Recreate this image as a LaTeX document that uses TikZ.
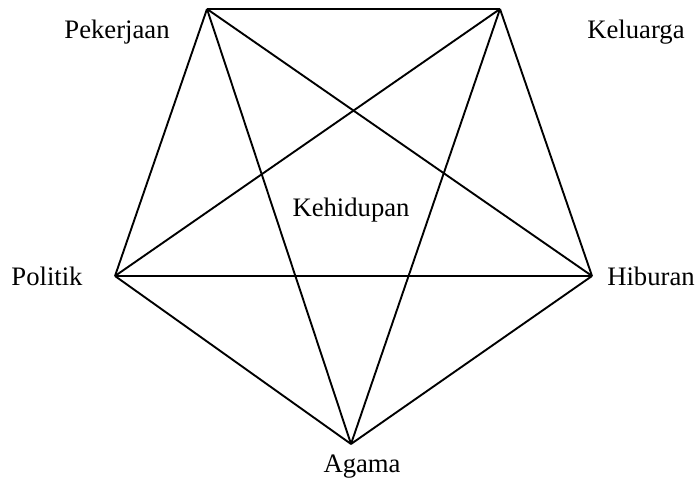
\documentclass[tikz,border=0pt]{standalone}
\usepackage{fontspec}
\setmainfont{Liberation Serif}
\usetikzlibrary{positioning}

\begin{document}
\begin{tikzpicture}[x=0.45pt, y=-0.45pt, font=\fontsize{12}{14}\selectfont,
  edge/.style={draw, line width=0.85pt, line join=miter},
  vlabel/.style={inner sep=0pt, anchor=base}]

\useasboundingbox (0,0) rectangle (698,479);

% corners of the pentagon
\coordinate (pek) at (207,9);
\coordinate (kel) at (500,9);
\coordinate (hib) at (592,276);
\coordinate (aga) at (351,444);
\coordinate (pol) at (115,276);

% all sides and diagonals
\foreach \a/\b in {pek/kel, kel/hib, hib/aga, aga/pol, pol/pek,
                   pek/hib, pek/aga, kel/aga, kel/pol, pol/hib}
  \draw[edge] (\a) -- (\b);

% labels
\node[vlabel] (pekerjaan) at (117,39) {Pekerjaan};
\node[vlabel] (keluarga) at (636,39) {Keluarga};
\node[vlabel] (kehidupan) at (351,217) {Kehidupan};
\node[vlabel] (politik) at (47,285) {Politik};
\node[vlabel] (hiburan) at (651,285) {Hiburan};
\node[vlabel] (agama) at (362,472) {Agama};

\end{tikzpicture}
\end{document}
